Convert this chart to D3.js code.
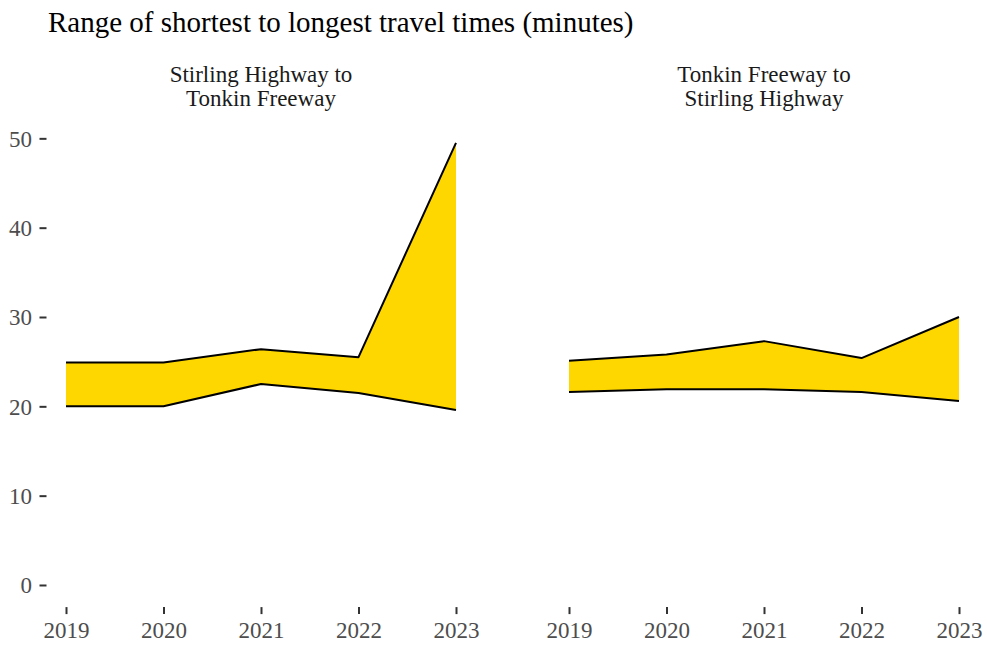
<!DOCTYPE html>
<html>
<head>
<meta charset="utf-8">
<script src="https://cdn.jsdelivr.net/npm/d3@7"></script>
<style>
  body { margin: 0; background: #fff; }
  svg { display: block; }
</style>
</head>
<body>
<svg id="chart" width="987" height="653"></svg>
<script>
// Travel time ranges by year, per direction
const years = [2019, 2020, 2021, 2022, 2023];
const panelTitles = [["Stirling Highway to", "Tonkin Freeway"], ["Tonkin Freeway to", "Stirling Highway"]];
const stirlingToTonkinMin = [20.0, 20.0, 22.5, 21.5, 19.6];
const stirlingToTonkinMax = [24.9, 24.9, 26.4, 25.5, 49.5];
const tonkinToStirlingMin = [21.6, 21.9, 21.9, 21.6, 20.6];
const tonkinToStirlingMax = [25.1, 25.8, 27.3, 25.4, 30.0];
const yTicks = [0, 10, 20, 30, 40, 50];

const panels = [
  { title: panelTitles[0], lo: stirlingToTonkinMin, hi: stirlingToTonkinMax },
  { title: panelTitles[1], lo: tonkinToStirlingMin, hi: tonkinToStirlingMax }
];

const svg = d3.select("#chart");
const font = "'Liberation Serif', 'Times New Roman', serif";

const plotTop = 120.7, plotBottom = 607.1;
const panelLefts = [46.5, 549.5];
const panelWidth = 429;

// y range always includes zero, with 5% padding on both ends
const allVals = stirlingToTonkinMin.concat(stirlingToTonkinMax, tonkinToStirlingMin, tonkinToStirlingMax);
const yMax = d3.max(allVals);
const pad = yMax * 0.05;
const y = d3.scaleLinear().domain([-pad, yMax + pad]).range([plotBottom, plotTop]);

// Title
svg.append("text")
  .attr("x", 48).attr("y", 31.5)
  .attr("font-family", font).attr("font-size", 29)
  .attr("fill", "#000")
  .text("Range of shortest to longest travel times (minutes)");

// Y axis (shared, left)
const yAxis = svg.append("g").attr("transform", `translate(${panelLefts[0]},0)`)
  .call(d3.axisLeft(y).tickValues(yTicks).tickSize(7));
yAxis.select(".domain").remove();
yAxis.selectAll("line").attr("stroke", "#333").attr("stroke-width", 2);
yAxis.selectAll("text").attr("font-family", font).attr("font-size", 23).attr("fill", "#4d4d4d")
  .attr("dy", "0.34em").attr("x", -14.5);

panels.forEach((p, i) => {
  const x0 = panelLefts[i];
  const yrPad = (years[years.length - 1] - years[0]) * 0.05;
  const x = d3.scaleLinear()
    .domain([years[0] - yrPad, years[years.length - 1] + yrPad])
    .range([x0, x0 + panelWidth]);

  const g = svg.append("g");
  const rows = years.map((yr, k) => ({ yr, lo: p.lo[k], hi: p.hi[k] }));

  g.append("path").datum(rows)
    .attr("d", d3.area().x(d => x(d.yr)).y0(d => y(d.lo)).y1(d => y(d.hi)))
    .attr("fill", "#FFD700");

  ["lo", "hi"].forEach(key => {
    g.append("path").datum(rows)
      .attr("d", d3.line().x(d => x(d.yr)).y(d => y(d[key])))
      .attr("fill", "none").attr("stroke", "#000").attr("stroke-width", 2)
      .attr("stroke-linejoin", "round");
  });

  // Strip title
  const cx = x0 + panelWidth / 2;
  const t = svg.append("text")
    .attr("font-family", font).attr("font-size", 23).attr("fill", "#1a1a1a")
    .attr("text-anchor", "middle");
  p.title.forEach((line, j) => {
    t.append("tspan").attr("x", cx).attr("y", 81.5 + j * 24).text(line);
  });

  // X axis
  const xAxis = svg.append("g").attr("transform", `translate(0,${plotBottom})`)
    .call(d3.axisBottom(x).tickValues(years).tickFormat(d3.format("d")).tickSize(7));
  xAxis.select(".domain").remove();
  xAxis.selectAll("line").attr("stroke", "#333").attr("stroke-width", 2);
  xAxis.selectAll("text").attr("font-family", font).attr("font-size", 23).attr("fill", "#4d4d4d")
    .attr("y", 31).attr("dy", 0);
});
</script>
</body>
</html>
